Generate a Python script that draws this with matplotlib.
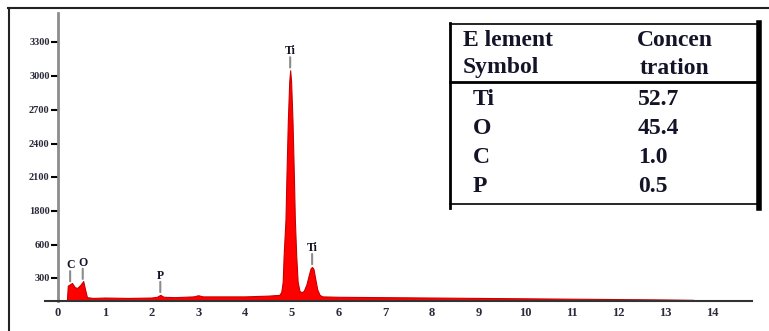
import numpy as np
import matplotlib
matplotlib.use("Agg")
import matplotlib.pyplot as plt
from matplotlib.lines import Line2D

matplotlib.rcParams["font.family"] = "Liberation Serif"
matplotlib.rcParams["font.weight"] = "bold"

W, H = 769, 331
RED = "#ff0000"
EDGE = "#c80000"
INK = "#141428"

# spectrum (keV, counts)
energy = [0.19, 0.21, 0.30, 0.36, 0.41, 0.48, 0.54, 0.58, 0.62, 0.75, 1.0, 1.5,
          2.0, 2.12, 2.19, 2.26, 2.5, 2.9, 3.0, 3.1, 3.5, 4.0, 4.5, 4.74, 4.78,
          4.81, 4.83, 4.87, 4.89, 4.92, 4.95, 4.97, 4.99, 5.02, 5.05, 5.07,
          5.10, 5.13, 5.17, 5.21, 5.26, 5.32, 5.37, 5.41, 5.44, 5.47, 5.51,
          5.55, 5.60, 5.66, 6.0, 7.0, 8.0, 9.0, 10.0, 11.0, 12.0, 13.0, 13.6,
          13.62]
counts = [0, 200, 235, 180, 170, 210, 260, 150, 50, 40, 45, 40,
          45, 55, 80, 55, 50, 60, 75, 60, 60, 60, 70, 80, 120,
          250, 500, 1500, 2100, 2600, 2950, 3050, 2950, 2600, 2100, 1500,
          500, 250, 130, 115, 130, 220, 330, 390, 400, 380, 280,
          150, 80, 60, 55, 50, 45, 40, 35, 30, 25, 20, 15,
          0]

# peak markers
peak_labels = ["C", "O", "P", "Ti", "Ti"]
peak_energy = [0.26, 0.53, 2.19, 4.97, 5.44]

# axis ticks as printed on the original (uneven labels)
y_ticks = [300, 600, 1800, 2100, 2400, 2700, 3000, 3300]
x_ticks = list(range(0, 15))

# table
elements = ["Ti", "O", "C", "P"]
concentration = ["52.7", "45.4", "1.0", "0.5"]

# the printed y axis is not linear: map label value -> drawn height
scale_vals = [0, 300, 600, 1800, 2100, 2400, 2700, 3000, 3300, 3600]
scale_pos = [0, 23, 56, 90, 124, 157, 191, 225, 259, 293]


def fwd(v):
    return np.interp(v, scale_vals, scale_pos)


def inv(p):
    return np.interp(p, scale_pos, scale_vals)


def fx(px):
    return px / W


def fy(py):
    return 1 - py / H


fig = plt.figure(figsize=(W / 100, H / 100), dpi=100)
ax = fig.add_axes([fx(45), fy(301), fx(752) - fx(45), fy(13) - fy(301)])
ax.set_yscale("function", functions=(fwd, inv))

ax.fill_between(energy, counts, 0, color=RED, linewidth=0.8, edgecolor=EDGE, zorder=2)

ax.set_xlim(-0.278, 14.856)
ax.set_ylim(0, 3555)

for s in ["top", "right"]:
    ax.spines[s].set_visible(False)
ax.spines["left"].set_position(("data", 0))
ax.spines["left"].set_color("#8c8c8c")
ax.spines["left"].set_linewidth(2)
ax.spines["bottom"].set_color("#333333")
ax.spines["bottom"].set_linewidth(1.5)

ax.set_yticks(y_ticks)
ax.set_yticklabels([str(v) for v in y_ticks])
ax.set_xticks(x_ticks)
ax.set_xticklabels([str(v) for v in x_ticks])
ax.tick_params(axis="y", length=5, width=1.5, color="black", pad=1,
               labelsize=7.5, labelcolor="#2a2a3a")
ax.tick_params(axis="x", length=0, pad=4, labelsize=9, labelcolor="#2a2a3a")
ax.yaxis.set_minor_locator(matplotlib.ticker.NullLocator())

for lab, e in zip(peak_labels, peak_energy):
    c = np.interp(e, energy, counts)
    ax.annotate("", xy=(e, c), xytext=(0, 13), textcoords="offset pixels",
                arrowprops=dict(arrowstyle="-", color="#8c8c8c", lw=1.5,
                                shrinkA=0, shrinkB=2))
    ax.annotate(lab, xy=(e, c), xytext=(0, 19), textcoords="offset pixels",
                ha="center", va="center", fontsize=8.5, color=INK)

# outer frame
fig.add_artist(Line2D([fx(8), fx(769)], [fy(8), fy(8)], color="#222222", lw=1.5))
fig.add_artist(Line2D([fx(9), fx(9)], [fy(8), fy(331)], color="#222222", lw=1.5))

# table box
fig.add_artist(Line2D([fx(450), fx(759)], [fy(24), fy(24)], color="black", lw=1.2))
fig.add_artist(Line2D([fx(450), fx(759)], [fy(82), fy(82)], color="black", lw=2))
fig.add_artist(Line2D([fx(450), fx(759)], [fy(204), fy(204)], color="black", lw=1.2))
fig.add_artist(Line2D([fx(450), fx(450)], [fy(23), fy(208)], color="black", lw=2))
fig.add_artist(Line2D([fx(759), fx(759)], [fy(23), fy(208)], color="black", lw=4))

tkw = dict(fontsize=17, color=INK, va="center", ha="left")
fig.text(fx(463), fy(41), "E lement", **tkw)
fig.text(fx(463), fy(68), "Symbol", **tkw)
fig.text(fx(637), fy(41), "Concen", **tkw)
fig.text(fx(640), fy(68), "tration", **tkw)
for i, (el, cv) in enumerate(zip(elements, concentration)):
    y = 99 + i * 29.3
    fig.text(fx(473), fy(y), el, **tkw)
    fig.text(fx(638), fy(y), cv, **tkw)

fig.savefig("out.png", dpi=100)
